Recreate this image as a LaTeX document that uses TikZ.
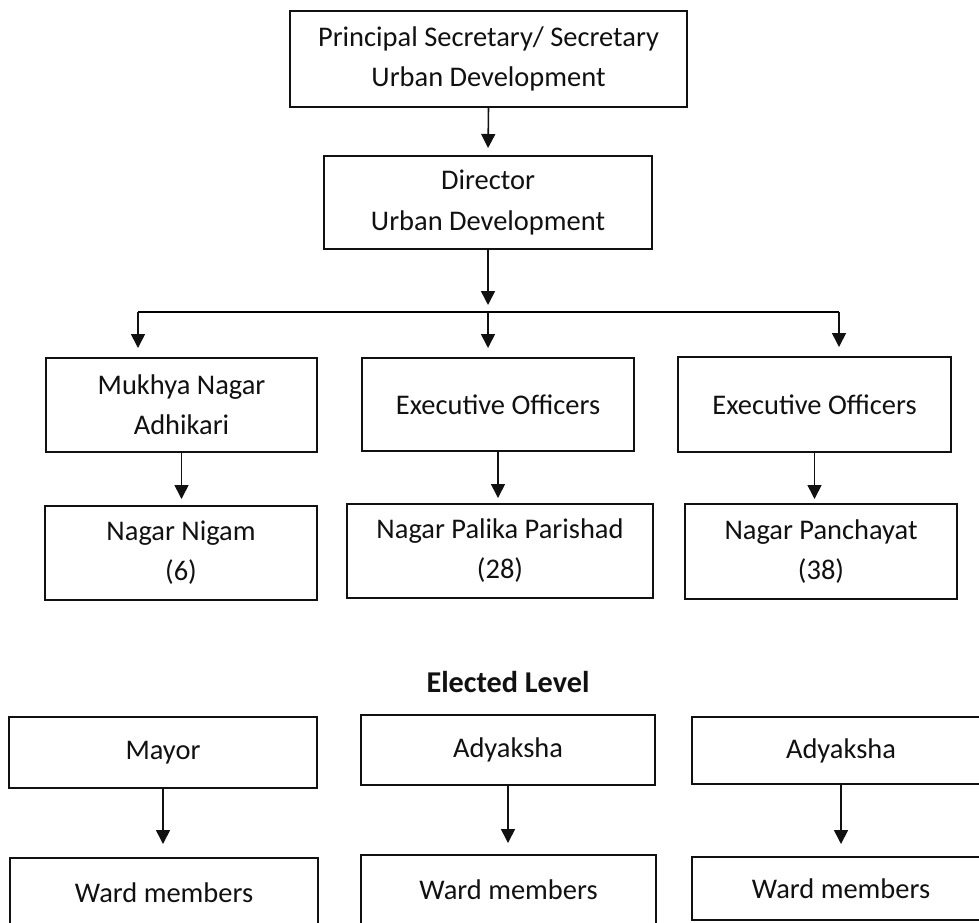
\documentclass[tikz,border=0pt]{standalone}
\usepackage{fontspec}
\setmainfont{Carlito}
\usetikzlibrary{arrows.meta,calc}
\definecolor{cInk}{HTML}{111111}
\tikzset{
  every picture/.style={line width=0.9pt},
  box/.style={draw=cInk, fill=white, align=center, inner sep=0pt, outer sep=0pt,
              font=\fontsize{16.2}{22.8}\selectfont, text=cInk},
  head/.style={font=\fontsize{17.2}{20}\selectfont\bfseries, text=cInk},
  flow/.style={-{Triangle[length=0.28cm,width=0.28cm]}, draw=cInk},
}

\begin{document}
\begin{tikzpicture}[x=0.02cm,y=-0.02cm]
\useasboundingbox (0,0) rectangle (979,922);

% ------------------------------------------------------------ officials
\node[box, minimum width=7.94cm, minimum height=1.92cm] (psec) at (488.5,59)
      {Principal Secretary/ Secretary\\ Urban Development};
\node[box, minimum width=6.56cm, minimum height=1.86cm] (dir) at (488,202.5)
      {Director\\ Urban Development};
\draw[flow, shorten >=0.16cm] (psec.south) -- (dir.north);

% the fork below the director
\coordinate (jn) at (488,312);
\coordinate (jl) at (138,312);
\coordinate (jr) at (839,312);
\draw[flow, shorten >=0.14cm] (dir.south) -- (jn);
\draw (jl) -- (jr);

\node[box, minimum width=5.42cm, minimum height=1.88cm] (mna)  at (181.5,405)
      {Mukhya Nagar\\ Adhikari};
\node[box, minimum width=5.44cm, minimum height=1.86cm] (exo1) at (498,404.5)
      {Executive Officers};
\node[box, minimum width=5.46cm, minimum height=1.90cm] (exo2) at (814.5,404.5)
      {Executive Officers};
\draw[flow, shorten >=0.2cm] (jl) -- (jl |- mna.north);
\draw[flow, shorten >=0.2cm] (jn) -- (jn |- exo1.north);
\draw[flow, shorten >=0.2cm] (jr) -- (jr |- exo2.north);

\node[box, minimum width=5.44cm, minimum height=1.88cm] (nigam)  at (181,553)
      {Nagar Nigam\\ (6)};
\node[box, minimum width=6.12cm, minimum height=1.88cm] (palika) at (500,551)
      {Nagar Palika Parishad\\ (28)};
\node[box, minimum width=5.44cm, minimum height=1.90cm] (panch)  at (821,551.5)
      {Nagar Panchayat\\ (38)};
\draw[flow, shorten >=0.14cm] (mna.south) -- (mna.south |- nigam.north);
\draw[flow, shorten >=0.12cm] (exo1.south) -- (exo1.south |- palika.north);
\draw[flow, shorten >=0.1cm] (exo2.south) -- (exo2.south |- panch.north);

% ------------------------------------------------------------ elected level
\node[head, anchor=base] (elv) at (508,692) {Elected Level};

\node[box, minimum width=6.16cm, minimum height=1.42cm] (mayor) at (163,752.5) {Mayor};
\node[box, minimum width=5.88cm, minimum height=1.40cm] (ady1)  at (508,750) {Adyaksha};
\node[box, minimum width=5.96cm, minimum height=1.34cm] (ady2)  at (841,750.5) {Adyaksha};

\node[box, minimum width=6.16cm, minimum height=1.40cm] (ward1) at (164,893) {Ward members};
\node[box, minimum width=5.90cm, minimum height=1.40cm] (ward2) at (508.5,890) {Ward members};
\node[box, minimum width=5.96cm, minimum height=1.26cm] (ward3) at (841,888.5) {Ward members};

\draw[flow, shorten >=0.28cm] (mayor.south) -- (mayor.south |- ward1.north);
\draw[flow, shorten >=0.24cm] (ady1.south) -- (ady1.south |- ward2.north);
\draw[flow, shorten >=0.26cm] (ady2.south) -- (ady2.south |- ward3.north);

\end{tikzpicture}
\end{document}
